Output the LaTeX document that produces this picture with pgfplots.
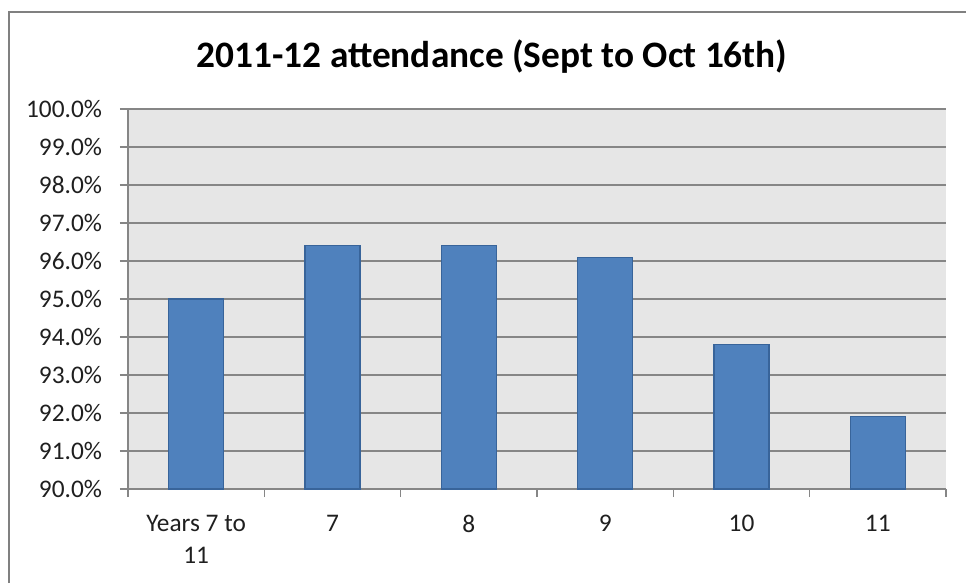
\documentclass[border=0pt]{standalone}
\usepackage{pgfplots}
\pgfplotsset{compat=1.18}
\usepackage{fontspec}
\setmainfont{Carlito}
\definecolor{barblue}{HTML}{4F81BD}
\definecolor{bardark}{HTML}{38649A}
\definecolor{gridgray}{HTML}{868686}
\definecolor{bggray}{HTML}{E6E6E6}
\definecolor{framegray}{HTML}{808080}
\begin{document}
\begin{tikzpicture}
\path[use as bounding box] (0,0) rectangle (724.5pt,437.25pt);
\draw[framegray, line width=1.1pt] (6.75pt,0) -- (6.75pt,428.25pt) -- (724.5pt,428.25pt);
\node[font=\fontsize{28}{33}\selectfont\bfseries, text=black] at (369pt,394.5pt) {2011-12 attendance (Sept to Oct 16th)};
\begin{axis}[
  at={(96pt,70.5pt)}, anchor=south west,
  scale only axis, width=613.5pt, height=285pt,
  xmin=-0.5, xmax=5.5, ymin=90, ymax=100,
  axis x line*=bottom, axis y line*=left,
  axis line style={gridgray, line width=1.1pt},
  axis background/.style={fill=bggray},
  ybar, bar width=41.25pt,
  xtick={0,...,5},
  xticklabels={{Years 7 to\\11},7,8,9,10,11},
  minor xtick={-0.5,0.5,...,5.5},
  major x tick style={draw=none},
  minor x tick style={gridgray, line width=1.1pt},
  ytick={90,...,100},
  yticklabels={90.0\%,91.0\%,92.0\%,93.0\%,94.0\%,95.0\%,96.0\%,97.0\%,98.0\%,99.0\%,100.0\%},
  y tick style={gridgray, line width=1.1pt},
  tick align=outside,
  major tick length=6pt, minor tick length=6pt,
  ymajorgrids, major grid style={gridgray, line width=1.1pt},
  tick label style={font=\fontsize{19}{24}\selectfont, text=black!88},
  xticklabel style={align=center, yshift=-10pt},
  yticklabel style={xshift=-10pt},
]
\addplot[fill=barblue, draw=bardark, line width=0.9pt] coordinates {(0,95.0) (1,96.4) (2,96.4) (3,96.1) (4,93.8) (5,91.9)};
\end{axis}
\end{tikzpicture}
\end{document}
